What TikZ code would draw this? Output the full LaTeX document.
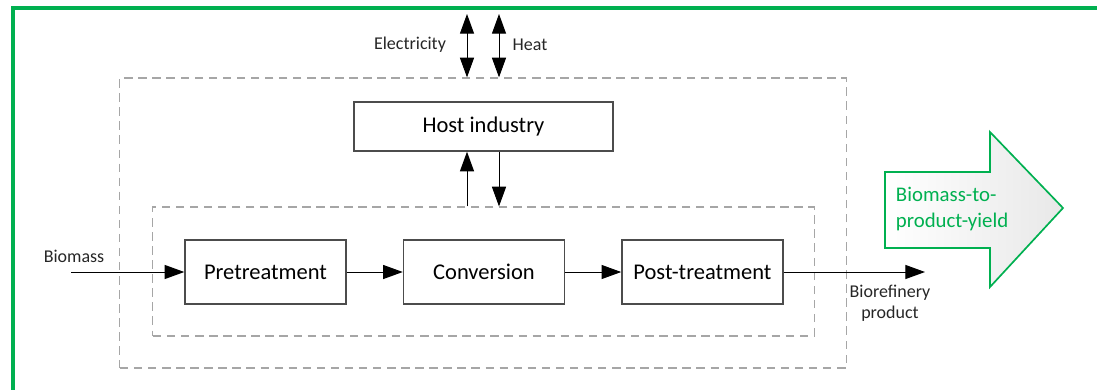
\documentclass[tikz,border=0pt]{standalone}
\usepackage{fontspec}
\setmainfont{Carlito}
\usetikzlibrary{arrows.meta,positioning}
\definecolor{frgreen}{RGB}{0,176,80}
\tikzset{
    %Define standard arrow tip
    >={Triangle[length=14pt,width=10pt]},
    %Define style for boxes
    kasten/.style={
           rectangle,
           draw=black!70, line width=1pt,
           minimum width=4.025cm,
           minimum height=1.6cm,
           font=\fontsize{16}{19}\selectfont,
           text centered},
    % Define style for dashed frames
    rahmen/.style={
           rectangle,
           draw=black!35, line width=0.8pt,
           dash pattern=on 6pt off 4pt},
    % Define arrow style
    pil/.style={
           ->,
           line width=0.7pt},
    % small labels
    klein/.style={
           font=\fontsize{12.8}{15}\selectfont,
           text=black!85}
}
\begin{document}
\begin{tikzpicture}[x=0.025cm, y=-0.025cm, node distance=1.4cm]
\useasboundingbox (0,0) rectangle (1097,389);

% green frame
\draw[frgreen, line width=3.5pt] (13,400) -- (13,8) -- (1110,8);

%frames
\node[rahmen, minimum width=18.15cm, minimum height=7.25cm] (outer) at (483,223) {};
\node[rahmen, minimum width=16.525cm, minimum height=3.225cm] (inner) at (483.5,271.5) {};

%nodes
\node[kasten] (pre) at (265.5,272) {Pretreatment};
\node[kasten, right=of pre] (conv) {Conversion};
\node[kasten, right=of conv] (post) {Post-treatment};
\node[kasten, minimum width=6.475cm, minimum height=1.225cm] (host) at (483.5,126.5) {Host industry};

\coordinate (el) at (467,14);
\coordinate (he) at (499,14);
\coordinate (bin) at (71,272);
\coordinate (bout) at (925,272);

\node[klein] (elabel) at (410,45) {Electricity};
\node[klein] (hlabel) at (530,45) {Heat};
\node[klein] (blabel) at (74,256) {Biomass};
\node[klein, align=center] (plabel) at (890,303) {Biorefinery\\product};

% arrows
\draw [pil, <->] (el) -- (el |- outer.north);
\draw [pil, <->] (he) -- (he |- outer.north);
\draw [pil] (el |- inner.north) -- (el |- host.south);
\draw [pil] (he |- host.south) -- (he |- inner.north);
\draw [pil] (bin) -- (pre);
\draw [pil] (pre) -- (conv);
\draw [pil] (conv) -- (post);
\draw [pil] (post) -- (bout);

% yield arrow
\draw[frgreen, line width=1.2pt, left color=white, right color=black!9, line join=miter]
    (885,172) -- (990,172) -- (990,132) -- (1063,208)
    -- (990,287) -- (990,248) -- (885,248) -- cycle;
\node[anchor=west, align=left, text=frgreen,
      font=\fontsize{14.8}{19}\selectfont] (yield) at (891,209)
      {Biomass-to-\\product-yield};

\end{tikzpicture}
\end{document}
